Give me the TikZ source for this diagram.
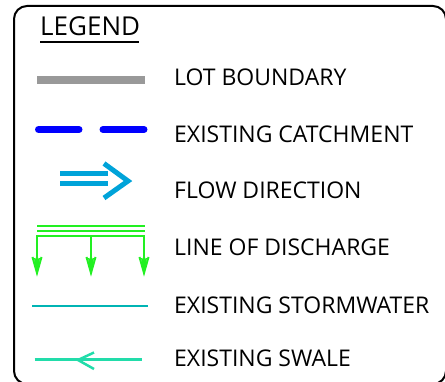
\documentclass[tikz,border=0pt]{standalone}
\usepackage{fontspec}
\setmainfont{Open Sans}
\begin{document}
\begin{tikzpicture}[x=1pt,y=-1pt,
  label/.style={anchor=base west,inner sep=0pt,font=\fontsize{23}{23}\selectfont},
  lotline/.style={line width=8pt,color=lotgray},
  catch/.style={line width=7pt,color=catchblue,line cap=round},
  flow/.style={line width=5pt,color=flowcyan},
  dis/.style={line width=2pt,color=disgreen},
  storm/.style={line width=2.2pt,color=stormteal},
  swale/.style={line width=2.5pt,color=swalemint}]
\definecolor{lotgray}{HTML}{999999}
\definecolor{catchblue}{HTML}{0000FF}
\definecolor{flowcyan}{HTML}{00A3D9}
\definecolor{disgreen}{HTML}{22F022}
\definecolor{stormteal}{HTML}{00B4B4}
\definecolor{swalemint}{HTML}{22DCAA}
\useasboundingbox (0,0) rectangle (445,382);
\clip (0,0) rectangle (445,382);
% frame
\draw[line width=2pt,rounded corners=13pt] (14,6) rectangle (446,384);
% heading
\node[anchor=base west,inner sep=0pt,font=\fontsize{26}{26}\selectfont] (title) at (40,36) {LEGEND};
\draw[line width=1.6pt] (40,42.3) -- (138.5,42.3);
% lot boundary
\draw[lotline] (37,80.5) -- (145,80.5);
\node[label] (lot) at (174,86) {LOT BOUNDARY};
% existing catchment
\draw[catch] (38.5,129.5) -- (79,129.5);
\draw[catch] (103,129.5) -- (144,129.5);
\node[label] (catch) at (174,143) {EXISTING CATCHMENT};
% flow direction
\draw[flow] (60,173.5) -- (108,173.5);
\draw[flow] (60,183.5) -- (108,183.5);
\draw[flow,line join=miter] (104,163.5) -- (128,181) -- (104,198);
\node[label] (flowtxt) at (174,199) {FLOW DIRECTION};
% line of discharge
\draw[dis] (37,226) -- (145,226);
\draw[dis] (37,231.5) -- (145,231.5);
\draw[dis] (37,273) -- (37,236.5) -- (144,236.5) -- (144,273);
\draw[dis] (91,236.5) -- (91,273);
\foreach \x in {37,91,144}{
  \draw[dis,line join=miter] (\x-4.5,257) -- (\x,273) -- (\x+4.5,257);
  \draw[dis,line width=1.5pt] (\x-2.2,258) -- (\x,272);
  \draw[dis,line width=1.5pt] (\x+2.2,258) -- (\x,272);
}
\node[label] (dis) at (174,255.5) {LINE OF DISCHARGE};
% existing stormwater
\draw[storm] (32,305.7) -- (147.5,305.7);
\node[label] (storm) at (174,314) {EXISTING STORMWATER};
% existing swale
\draw[swale] (34.5,359.3) -- (142,359.3);
\draw[swale] (94,352.5) -- (78,360) -- (94,369);
\node[label] (swale) at (174,366.5) {EXISTING SWALE};
\end{tikzpicture}
\end{document}
